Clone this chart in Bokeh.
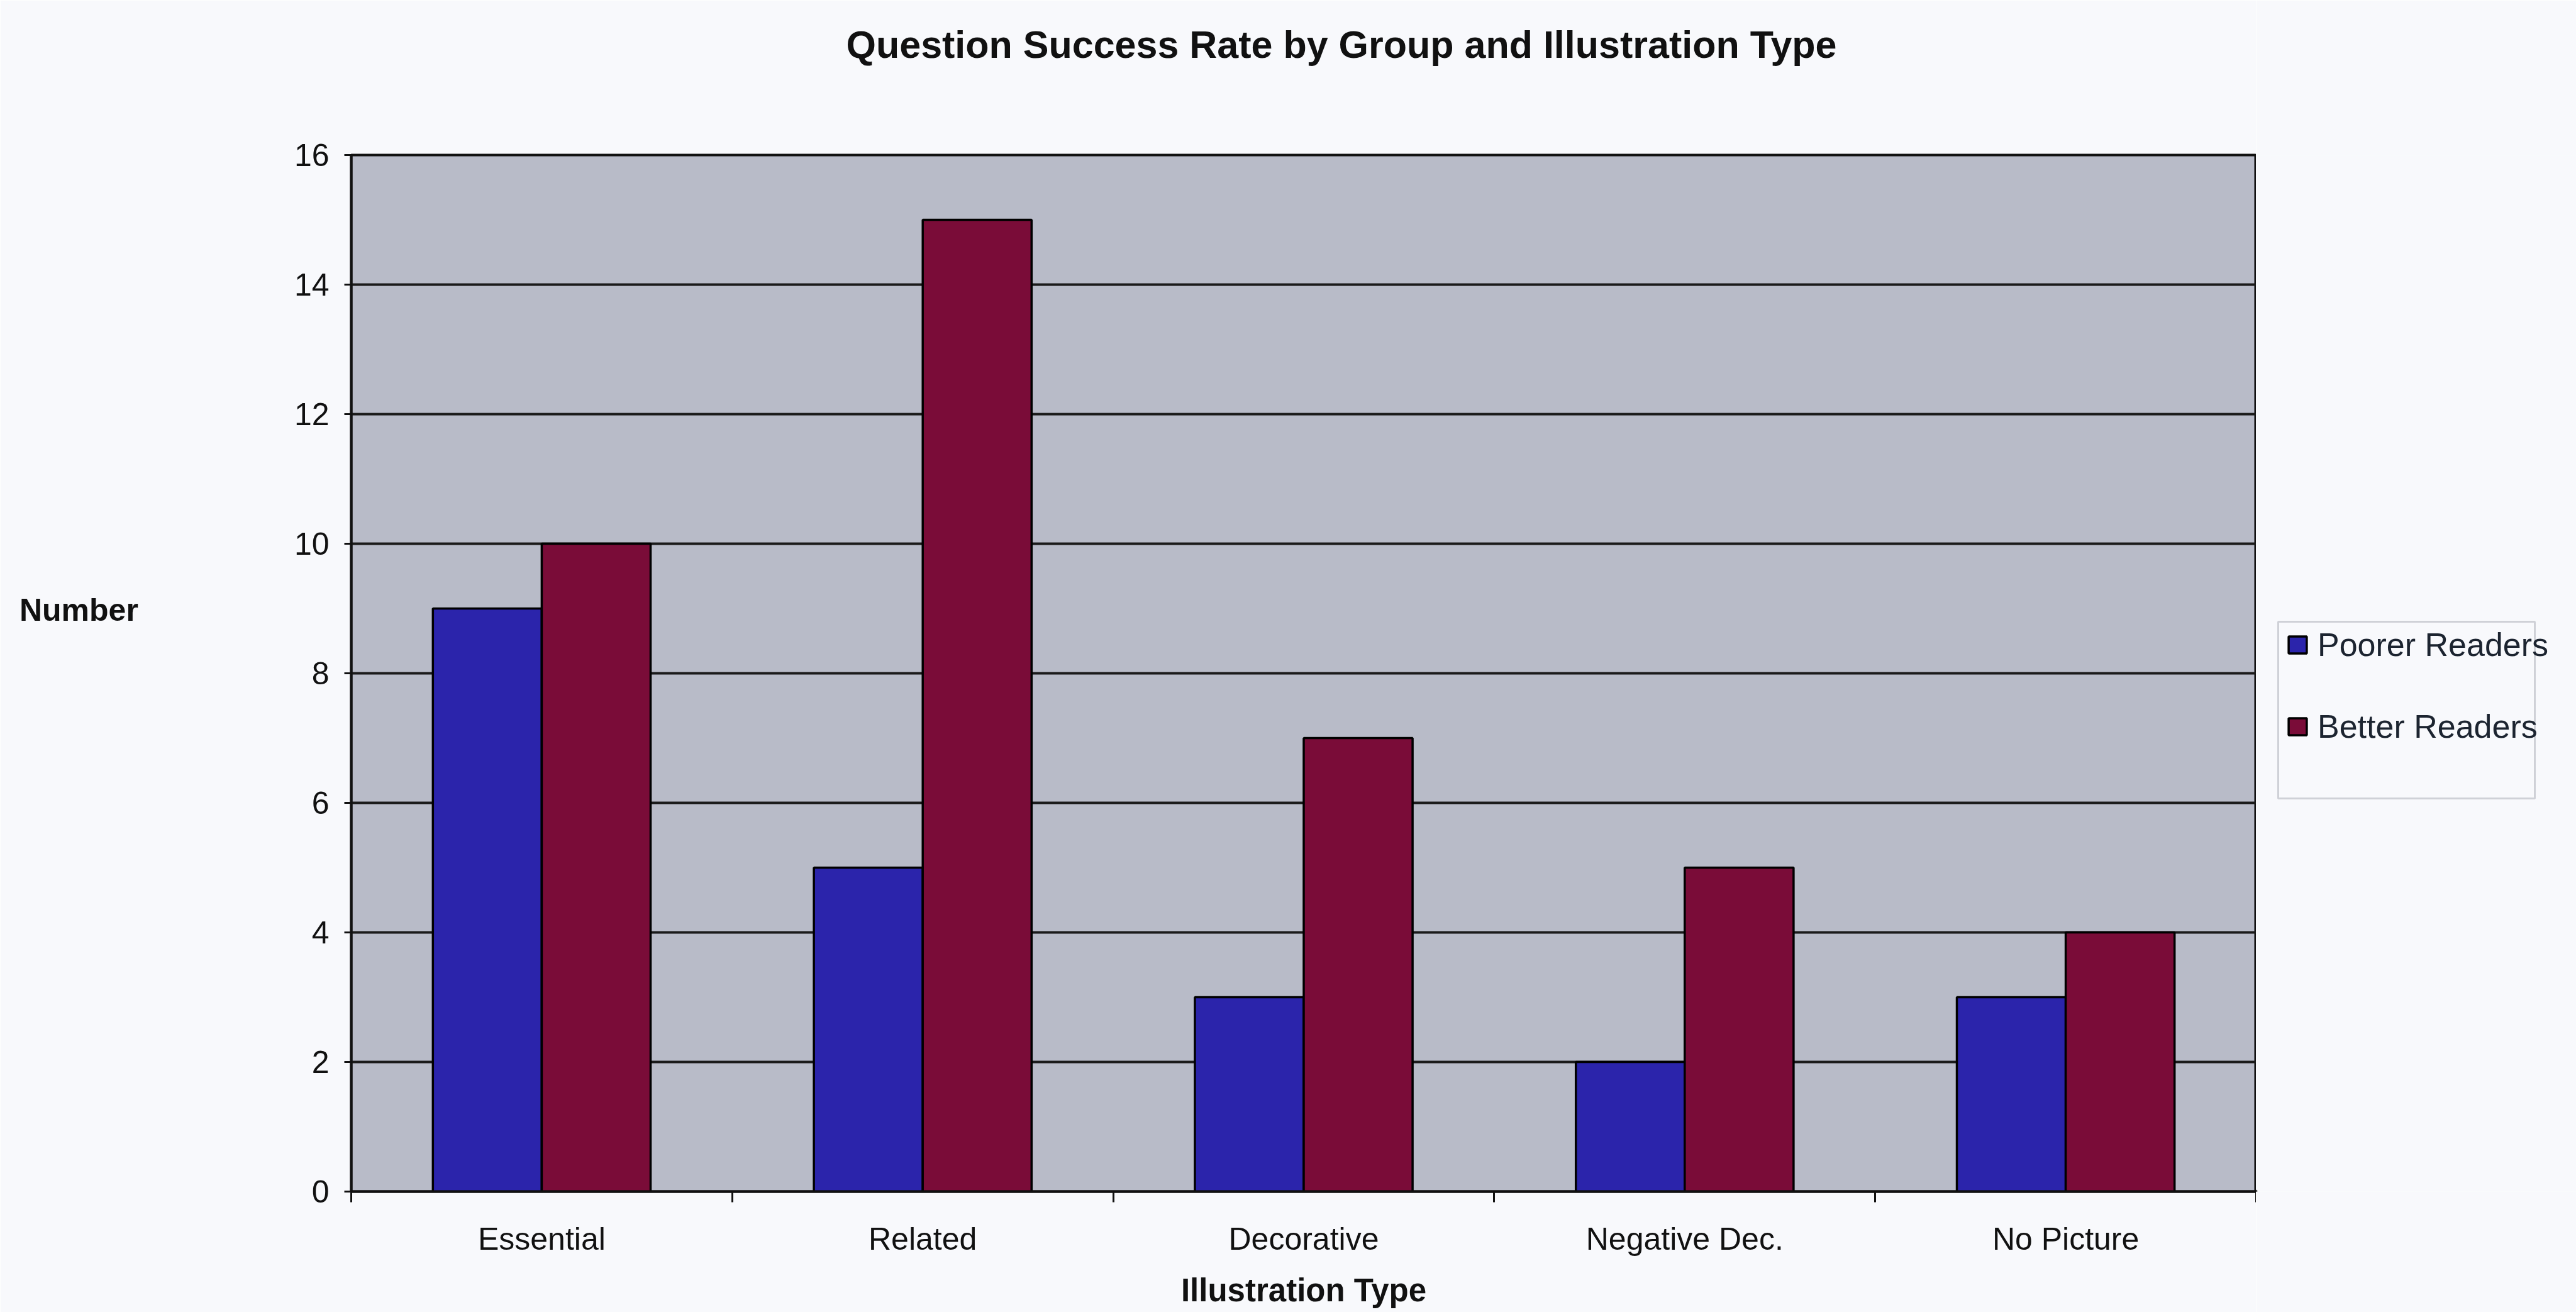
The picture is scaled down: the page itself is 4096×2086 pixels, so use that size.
from bokeh.plotting import figure
from bokeh.layouts import row
from bokeh.models import (ColumnDataSource, Range1d, FixedTicker, Legend, LegendItem,
                          LinearAxis, BoxAnnotation)
from bokeh.transform import dodge
from bokeh.embed import file_html
from bokeh.resources import INLINE

# Data
categories = ["Essential", "Related", "Decorative", "Negative Dec.", "No Picture"]
poorer_readers = [9, 5, 3, 2, 3]
better_readers = [10, 15, 7, 5, 4]
series_names = ["Poorer Readers", "Better Readers"]
y_ticks = [0, 2, 4, 6, 8, 10, 12, 14, 16]

FONT = "Liberation Sans"
PAGE_BG = "#f8f9fc"
PLOT_BG = "#b8bbc8"
BLUE = "#2b24ab"
RED = "#7a0c38"
INK = "#111111"

positions = [i + 0.5 for i in range(len(categories))]
source = ColumnDataSource(dict(pos=positions, cat=categories,
                               poorer=poorer_readers, better=better_readers))

W, H = 4096, 2086
FL, FR, FT, FB = 558, 3587, 246, 1894   # frame edges in page pixels

# ---- main chart -------------------------------------------------------------
p = figure(width=FR, height=H, output_backend="svg", toolbar_location=None,
           x_range=Range1d(0, len(categories)), y_range=Range1d(0, 16),
           min_border_left=FL, min_border_right=0,
           min_border_top=FT, min_border_bottom=H - FB)
p.background_fill_color = PLOT_BG
p.border_fill_color = PAGE_BG
p.outline_line_color = INK
p.outline_line_width = 4

bar_w = 1 / 3.5
bar_style = dict(line_color="#000000", line_width=3.5)
p.vbar(x=dodge("pos", -bar_w / 2, range=p.x_range), top="poorer", width=bar_w,
       source=source, fill_color=BLUE, **bar_style)
p.vbar(x=dodge("pos", bar_w / 2, range=p.x_range), top="better", width=bar_w,
       source=source, fill_color=RED, **bar_style)

# Grid
p.xgrid.visible = False
p.ygrid.ticker = FixedTicker(ticks=y_ticks)
p.ygrid.grid_line_color = "#1a1a1a"
p.ygrid.grid_line_width = 4

# Y axis
ya = p.yaxis[0]
ya.ticker = FixedTicker(ticks=y_ticks)
ya.axis_line_color = INK
ya.axis_line_width = 4
ya.major_tick_in = 0
ya.major_tick_out = 11
ya.major_tick_line_color = INK
ya.major_tick_line_width = 3
ya.minor_tick_line_color = None
ya.major_label_standoff = 24
ya.major_label_text_font = FONT
ya.major_label_text_font_size = "50px"
ya.major_label_text_color = INK
ya.axis_label = "Number\n\n\n"
ya.axis_label_text_font = FONT
ya.axis_label_text_font_size = "50px"
ya.axis_label_text_font_style = "bold"
ya.axis_label_text_color = INK
ya.axis_label_standoff = 245
if "axis_label_orientation" in ya.properties():
    ya.axis_label_orientation = "horizontal"

# X axis: labels at category centres, tick marks at category boundaries
xa = p.xaxis[0]
xa.ticker = FixedTicker(ticks=positions, minor_ticks=list(range(len(categories) + 1)))
xa.major_label_overrides = {pos: cat for pos, cat in zip(positions, categories)}
xa.axis_line_color = INK
xa.axis_line_width = 4
xa.major_tick_in = 0
xa.major_tick_out = 0
xa.minor_tick_in = 0
xa.minor_tick_out = 17
xa.minor_tick_line_color = INK
xa.minor_tick_line_width = 3
xa.major_label_standoff = 30
xa.major_label_text_font = FONT
xa.major_label_text_font_size = "50px"
xa.major_label_text_color = INK
xa.axis_label = "Illustration Type"
xa.axis_label_text_font = FONT
xa.axis_label_text_font_size = "51px"
xa.axis_label_text_font_style = "bold"
xa.axis_label_text_color = INK
xa.axis_label_standoff = 22

# Blank axis that keeps the title clear of the plot area
spacer = LinearAxis(ticker=FixedTicker(ticks=[2.5], minor_ticks=[]),
                    major_label_overrides={2.5: "."},
                    major_tick_out=112, major_tick_in=0, major_label_standoff=0,
                    major_label_text_font_size="1px", major_label_text_alpha=0,
                    major_tick_line_alpha=0, minor_tick_line_alpha=0,
                    axis_line_alpha=0)
p.add_layout(spacer, "above")

# Title
p.title.text = "Question Success Rate by Group and Illustration Type"
p.title.align = "left"
p.title.offset = 787
p.title.standoff = 60
p.title.text_font = FONT
p.title.text_font_size = "61px"
p.title.text_font_style = "bold"
p.title.text_color = INK

# ---- legend panel to the right of the chart --------------------------------
# Its plot area spans the same rows as the chart's (FT..FB); screen y is
# measured upwards from FB.
LW = W - FR
lg = figure(width=LW, height=H, output_backend="svg", toolbar_location=None,
            x_range=Range1d(0, LW), y_range=Range1d(0, FB - FT),
            min_border_left=0, min_border_right=0,
            min_border_top=FT, min_border_bottom=H - FB,
            x_axis_type=None, y_axis_type=None)
lg.xgrid.visible = False
lg.ygrid.visible = False
lg.outline_line_color = None
lg.background_fill_color = PAGE_BG
lg.border_fill_color = PAGE_BG

# swatch renderers: a single point left of the visible range, used only for
# their fill styles in the legend
sw_blue = lg.vbar(x=[-LW], top=[1], width=1, fill_color=BLUE, **bar_style)
sw_red = lg.vbar(x=[-LW], top=[1], width=1, fill_color=RED, **bar_style)

lg.add_layout(BoxAnnotation(left=3622 - FR, right=4030 - FR,
                            top=FB - 988, bottom=FB - 1269,
                            left_units="screen", right_units="screen",
                            top_units="screen", bottom_units="screen",
                            fill_color=PAGE_BG, fill_alpha=1.0,
                            line_color="#6f7480", line_width=3))

legend = Legend(items=[LegendItem(label=series_names[0], renderers=[sw_blue]),
                       LegendItem(label=series_names[1], renderers=[sw_red])],
                location=(3635 - FR, FB - 1185),
                padding=0, margin=0, spacing=70,
                glyph_width=36, glyph_height=34, label_height=50,
                label_standoff=14,
                label_text_font=FONT, label_text_font_size="52px",
                label_text_color="#1c2430",
                background_fill_alpha=0, border_line_alpha=0)
lg.add_layout(legend)

layout = row(p, lg, spacing=0)
open("out.html", "w").write(file_html(layout, INLINE))
